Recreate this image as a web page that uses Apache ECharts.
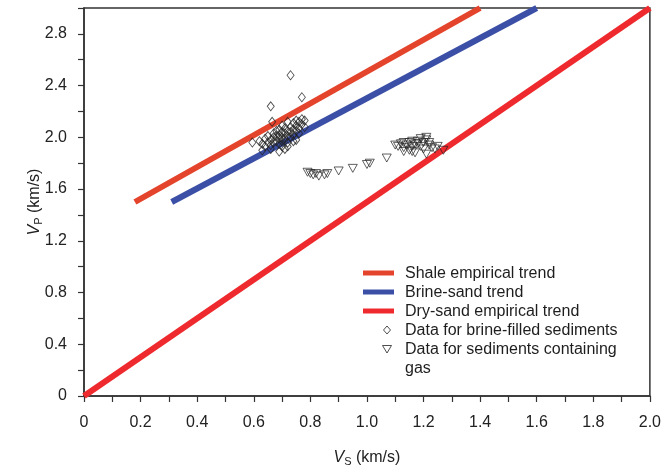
<!DOCTYPE html>
<html>
<head>
<meta charset="utf-8">
<script src="https://cdn.jsdelivr.net/npm/echarts@6/dist/echarts.min.js"></script>
<style>
  html, body { margin: 0; padding: 0; background: #fff; }
  #chart { width: 664px; height: 472px; }
</style>
</head>
<body>
<div id="chart"></div>
<script>
// Empirical velocity trends: [Vs, Vp] endpoints (km/s)
const shaleTrend = [[0.18, 1.5], [1.40, 3.0]];
const brineSandTrend = [[0.31, 1.5], [1.60, 3.0]];
const drySandTrend = [[0.0, 0.0], [2.0, 3.0]];

// Measured samples: [Vs, Vp] (km/s)
const brineSediments = [
  [0.73, 2.48], [0.77, 2.31], [0.66, 2.24], [0.595, 1.96], [0.78, 2.13], [0.665, 2.12],
  [0.62, 1.97], [0.63, 1.95], [0.64, 1.99], [0.64, 1.93], [0.65, 2.01], [0.65, 1.96],
  [0.66, 1.98], [0.66, 1.94], [0.67, 2.03], [0.67, 2.00], [0.67, 1.96], [0.68, 2.05],
  [0.68, 2.01], [0.68, 1.97], [0.69, 2.06], [0.69, 2.02], [0.69, 1.99], [0.69, 1.95],
  [0.70, 2.04], [0.70, 2.00], [0.70, 1.97], [0.70, 1.93], [0.71, 2.07], [0.71, 2.03],
  [0.71, 1.99], [0.71, 1.91], [0.72, 2.05], [0.72, 2.01], [0.72, 1.96], [0.72, 1.93],
  [0.73, 2.08], [0.73, 2.04], [0.73, 2.00], [0.74, 2.11], [0.74, 2.06], [0.74, 2.02],
  [0.74, 1.97], [0.75, 2.13], [0.75, 2.09], [0.75, 2.05], [0.76, 2.12], [0.76, 2.07],
  [0.76, 2.03], [0.77, 2.14], [0.77, 2.10], [0.78, 2.08], [0.63, 1.90], [0.66, 1.91],
  [0.69, 1.89], [0.75, 1.98], [0.72, 2.12], [0.70, 2.09]
];
const gasSediments = [
  [0.79, 1.73], [0.80, 1.72], [0.81, 1.71], [0.82, 1.72], [0.83, 1.70], [0.85, 1.71],
  [0.86, 1.72], [0.90, 1.74], [0.95, 1.76], [1.00, 1.79], [1.01, 1.80], [1.07, 1.84],
  [1.10, 1.94], [1.11, 1.93], [1.12, 1.95], [1.13, 1.92], [1.13, 1.96], [1.14, 1.94],
  [1.15, 1.96], [1.15, 1.90], [1.16, 1.93], [1.16, 1.89], [1.17, 1.88], [1.18, 1.97],
  [1.18, 1.95], [1.19, 1.93], [1.19, 1.99], [1.20, 1.96], [1.20, 1.91], [1.21, 1.98],
  [1.21, 2.00], [1.22, 1.94], [1.22, 1.96], [1.23, 1.92], [1.24, 1.91], [1.16, 1.97],
  [1.17, 1.95], [1.13, 1.89], [1.25, 1.93], [1.27, 1.90], [1.21, 1.87]
];

// Axis ranges and tick spacing (km/s)
const xRange = [0, 2.0];
const yRange = [0, 3.0];
const xTickStep = 0.1;
const yTickStep = 0.2;

const SHALE_COLOR = '#e4442c';
const BRINE_COLOR = '#3b4fa6';
const DRY_COLOR = '#ef2a2e';
const MARK_COLOR = '#222';
const FONT = '"Liberation Sans", Arial, sans-serif';

const chart = echarts.init(document.getElementById('chart'), null, { renderer: 'canvas' });

const fmtTick = (v, every) => {
  const k = Math.round(v * 10);
  if (k % every !== 0) return '';
  return k === 0 ? '0' : (k / 10).toFixed(1);
};

const axisCommon = {
  type: 'value',
  nameMoveOverlap: false,
  axisLine: { show: true, onZero: false, lineStyle: { color: '#333', width: 1.5 } },
  axisTick: { show: true, inside: false, length: 6, lineStyle: { color: '#333', width: 1.2 } },
  splitLine: { show: false },
  axisLabel: { color: '#222', fontSize: 16, fontFamily: FONT, showMaxLabel: true, showMinLabel: true }
};

const titleRich = {
  i: { fontStyle: 'italic', fontSize: 16, fontFamily: FONT, color: '#222' },
  s: { fontSize: 11, fontFamily: FONT, color: '#222', verticalAlign: 'bottom', padding: [8, 0, 0, 0] }
};

// Legend drawn as a vertical list inside the plot
const legendX = 363, legendTextX = 405, legendTop = 273, rowH = 19;
const legendRows = [
  { kind: 'line', color: SHALE_COLOR, text: 'Shale empirical trend' },
  { kind: 'line', color: BRINE_COLOR, text: 'Brine-sand trend' },
  { kind: 'line', color: DRY_COLOR, text: 'Dry-sand empirical trend' },
  { kind: 'diamond', text: 'Data for brine-filled sediments' },
  { kind: 'triangle', text: 'Data for sediments containing\ngas' }
];
const legendGraphics = [];
legendRows.forEach((r, i) => {
  const cy = legendTop + i * rowH;
  if (r.kind === 'line') {
    legendGraphics.push({ type: 'rect', shape: { x: legendX, y: cy - 2.5, width: 31, height: 5 },
      style: { fill: r.color } });
  } else if (r.kind === 'diamond') {
    legendGraphics.push({ type: 'polygon', shape: { points: [[387, cy - 4], [390.5, cy], [387, cy + 4], [383.5, cy]] },
      style: { fill: '#fff', stroke: MARK_COLOR, lineWidth: 0.8 } });
  } else {
    legendGraphics.push({ type: 'polygon', shape: { points: [[382.5, cy - 3.5], [391.5, cy - 3.5], [387, cy + 4]] },
      style: { fill: '#fff', stroke: MARK_COLOR, lineWidth: 0.8 } });
  }
  legendGraphics.push({ type: 'text', x: legendTextX, y: cy - 9,
    style: { text: r.text, fill: '#1e1e1e', font: '16px ' + FONT, lineHeight: 19, textVerticalAlign: 'top' } });
});

const option = {
  backgroundColor: '#fff',
  animation: false,
  grid: { left: 84, right: 12, top: 8, bottom: 73, show: true, borderColor: '#333', borderWidth: 1.5 },
  xAxis: Object.assign({}, axisCommon, {
    min: xRange[0], max: xRange[1], interval: xTickStep,
    name: '{i|V}{s|S} (km/s)',
    nameLocation: 'middle', nameGap: 52,
    nameTextStyle: { color: '#222', fontSize: 16, fontFamily: FONT, rich: titleRich },
    axisLabel: Object.assign({}, axisCommon.axisLabel, { margin: 19, formatter: v => fmtTick(v, 2) })
  }),
  yAxis: Object.assign({}, axisCommon, {
    min: yRange[0], max: yRange[1], interval: yTickStep,
    name: '{i|V}{s|P} (km/s)',
    nameLocation: 'middle', nameGap: 40, nameRotate: 90,
    nameTextStyle: { color: '#222', fontSize: 16, fontFamily: FONT, rich: titleRich },
    axisLabel: Object.assign({}, axisCommon.axisLabel, { margin: 17, formatter: v => fmtTick(v, 4) })
  }),
  graphic: legendGraphics,
  series: [
    { name: 'Shale empirical trend', type: 'line', data: shaleTrend, showSymbol: false,
      lineStyle: { color: SHALE_COLOR, width: 6, cap: 'butt' }, z: 2 },
    { name: 'Brine-sand trend', type: 'line', data: brineSandTrend, showSymbol: false,
      lineStyle: { color: BRINE_COLOR, width: 6, cap: 'butt' }, z: 2 },
    { name: 'Dry-sand empirical trend', type: 'line', data: drySandTrend, showSymbol: false,
      lineStyle: { color: DRY_COLOR, width: 6, cap: 'butt' }, z: 2 },
    { name: 'Data for brine-filled sediments', type: 'scatter', data: brineSediments,
      symbol: 'diamond', symbolSize: [7, 9],
      itemStyle: { color: 'rgba(255,255,255,0)', borderColor: MARK_COLOR, borderWidth: 0.9 }, z: 3 },
    { name: 'Data for sediments containing gas', type: 'scatter', data: gasSediments,
      symbol: 'triangle', symbolRotate: 180, symbolSize: [9, 8],
      itemStyle: { color: 'rgba(255,255,255,0)', borderColor: MARK_COLOR, borderWidth: 0.9 }, z: 3 }
  ]
};

chart.setOption(option);
</script>
</body>
</html>
